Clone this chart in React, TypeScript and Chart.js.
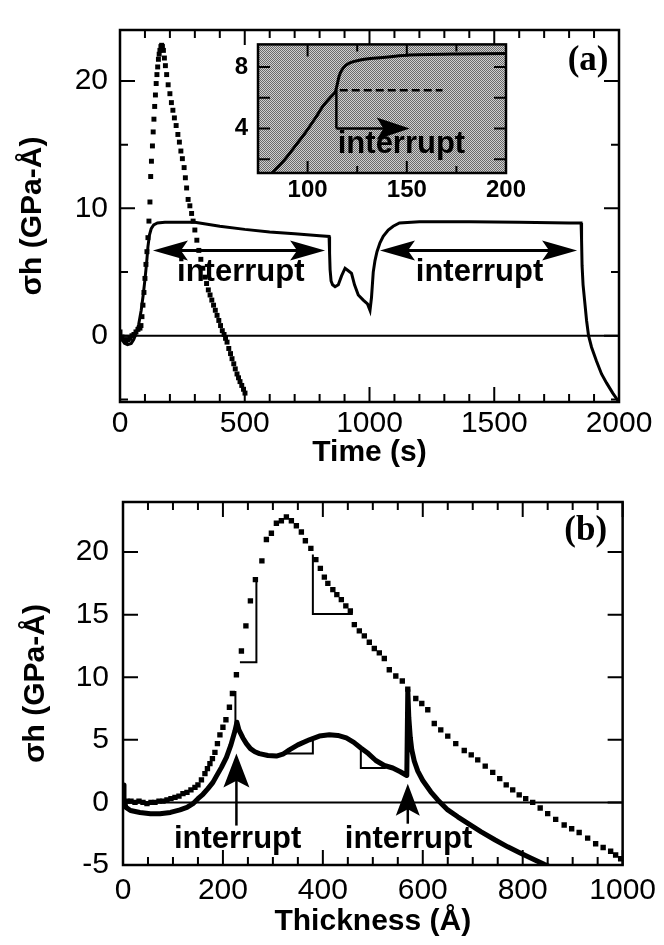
import React, { useEffect, useRef } from 'react';
import { Chart, registerables } from 'chart.js';

Chart.register(...registerables);

const SANS = "'Liberation Sans', Arial, Helvetica, sans-serif";
const SERIF = "'Liberation Serif', 'Times New Roman', serif";

// ===== Panel (a): sigma*h versus time =====
const aTimeTicks = [0, 500, 1000, 1500, 2000];
const aSigmaTicks = [0, 10, 20];
const aDotTime = [0, 8, 16, 24, 32, 40, 48, 56, 64, 72, 80, 84, 88, 92, 96, 100, 104, 108, 112, 116, 120, 123, 126, 130, 133, 136, 139, 142, 145, 148, 151, 154, 157, 160, 164, 167, 170, 174, 178, 182, 187, 193, 200, 206, 212, 218, 225, 232, 238, 244, 250, 257, 262, 267, 273, 280, 287, 293, 300, 308, 316, 324, 332, 340, 347, 354, 361, 368, 375, 382, 389, 396, 403, 410, 417, 423, 429, 436, 443, 449, 456, 462, 469, 475, 481, 488, 495, 501];
const aDotSigma = [0.3, -0.1, -0.3, -0.4, -0.3, -0.2, 0.0, 0.1, 0.3, 0.5, 0.6, 0.8, 1.5, 2.4, 3.4, 4.5, 5.6, 6.6, 7.7, 9.0, 10.5, 12.5, 13.7, 14.9, 16.0, 17.0, 18.0, 18.9, 19.8, 20.5, 21.1, 21.7, 22.1, 22.4, 22.7, 22.8, 22.7, 22.4, 21.8, 21.2, 20.5, 19.7, 19.0, 18.3, 17.7, 17.1, 16.5, 15.8, 15.2, 14.5, 13.9, 13.2, 12.4, 11.6, 10.7, 10.2, 9.6, 9.0, 8.3, 7.5, 6.7, 6.0, 5.3, 4.6, 4.1, 3.6, 3.2, 2.8, 2.4, 2.0, 1.6, 1.2, 0.8, 0.4, 0.1, -0.2, -0.5, -1.0, -1.4, -1.8, -2.2, -2.6, -3.0, -3.3, -3.6, -3.9, -4.2, -4.5];
const aLineTime = [0, 8, 18, 30, 45, 55, 65, 75, 85, 93, 100, 107, 112, 118, 125, 135, 150, 180, 250, 300, 400, 500, 600, 700, 800, 838, 840, 842, 846, 852, 862, 875, 888, 902, 915, 928, 940, 955, 975, 992, 1002, 1008, 1015, 1022, 1030, 1042, 1055, 1075, 1095, 1120, 1200, 1400, 1600, 1800, 1848, 1850, 1852, 1856, 1862, 1870, 1878, 1890, 1910, 1930, 1950, 1975, 2000];
const aLineSigma = [0.3, -0.3, -0.6, -0.7, -0.6, -0.3, 0.2, 0.9, 2.0, 3.2, 4.4, 5.8, 7.0, 7.9, 8.4, 8.7, 8.85, 8.9, 8.9, 8.9, 8.6, 8.35, 8.15, 8.0, 7.85, 7.8, 6.5, 5.2, 4.3, 4.0, 3.85, 4.0, 4.7, 5.3, 5.1, 4.9, 4.0, 3.2, 2.8, 2.5, 2.0, 3.0, 5.0, 5.9, 6.6, 7.3, 7.8, 8.3, 8.6, 8.85, 8.95, 8.95, 8.9, 8.85, 8.85, 7.5, 5.5, 4.0, 2.8, 1.2, 0.0, -0.9, -2.0, -3.0, -3.7, -4.5, -5.2];

// ===== Inset of panel (a) =====
const insetTimeTicks = [100, 150, 200];
const insetSigmaTicks = [4, 8];
const insetTime = [82, 88, 94, 99, 104, 108, 112, 114, 116, 118, 121, 126, 133, 150, 175, 200];
const insetSigma = [1.1, 1.9, 2.9, 3.75, 4.7, 5.5, 6.1, 6.4, 7.45, 7.95, 8.26, 8.45, 8.57, 8.78, 8.85, 8.88];

// ===== Panel (b): sigma*h versus thickness =====
const bThickTicks = [0, 200, 400, 600, 800, 1000];
const bSigmaTicks = [-5, 0, 5, 10, 15, 20];
const bDotThick = [0, 8, 16, 24, 32, 40, 48, 56, 64, 72, 80, 88, 96, 104, 112, 120, 128, 136, 144, 150, 157, 164, 169, 174, 179, 184, 189, 194, 200, 206, 213, 219, 227, 237, 246, 255, 265, 278, 287, 297, 307, 317, 327, 337, 347, 357, 365, 376, 386, 395, 403, 410, 420, 428, 437, 446, 455, 463, 473, 483, 493, 503, 513, 523, 533, 546, 559, 570, 586, 598, 610, 623, 636, 650, 666, 683, 697, 710, 725, 740, 754, 767, 780, 793, 806, 820, 835, 850, 866, 883, 898, 913, 930, 946, 961, 976, 986, 996];
const bDotSigma = [0.6, 0.1, 0.1, 0.0, 0.1, 0.0, -0.1, 0.0, 0.0, 0.1, 0.1, 0.2, 0.3, 0.4, 0.5, 0.7, 0.8, 1.0, 1.2, 1.4, 1.8, 2.3, 2.7, 3.1, 3.5, 4.0, 4.7, 5.4, 6.0, 6.6, 7.6, 8.7, 10.2, 12.1, 14.1, 16.1, 17.8, 19.3, 21.0, 21.5, 22.3, 22.5, 22.8, 22.5, 22.1, 21.6, 20.9, 20.3, 19.4, 18.7, 18.0, 17.5, 17.0, 16.6, 16.2, 15.7, 15.3, 14.2, 13.7, 13.3, 12.8, 12.3, 11.95, 11.5, 10.6, 10.1, 9.7, 9.05, 8.3, 7.9, 7.4, 6.3, 5.8, 5.3, 4.7, 4.15, 3.8, 3.4, 2.9, 2.4, 1.9, 1.4, 1.0, 0.6, 0.3, 0.0, -0.45, -0.9, -1.35, -1.8, -2.1, -2.4, -2.85, -3.3, -3.6, -3.9, -4.2, -4.5];
const bLineThick = [0, 2, 6, 15, 34, 55, 74, 95, 114, 128, 140, 150, 160, 170, 180, 187, 197, 207, 216, 224, 228, 232, 240, 247, 255, 264, 273, 290, 307, 320, 333, 350, 373, 393, 413, 430, 447, 462, 476, 491, 506, 523, 540, 555, 568, 570, 572, 575, 578, 583, 590, 600, 616, 630, 650, 670, 695, 717, 745, 770, 795, 816, 843, 870];
const bLineSigma = [1.4, 0.2, -0.4, -0.65, -0.8, -0.9, -0.9, -0.8, -0.6, -0.4, -0.1, 0.3, 0.65, 1.1, 1.6, 2.1, 2.8, 3.6, 4.6, 5.7, 6.4, 5.8, 5.15, 4.7, 4.3, 4.05, 3.9, 3.75, 3.7, 3.85, 4.2, 4.6, 5.0, 5.3, 5.4, 5.35, 5.15, 4.8, 4.35, 3.9, 3.35, 2.95, 2.75, 2.45, 2.15, 9.0, 6.8, 5.2, 4.2, 3.3, 2.5, 1.75, 0.85, 0.2, -0.6, -1.15, -1.8, -2.35, -3.0, -3.55, -4.05, -4.45, -4.95, -5.4];
const bStep1Thick = [234, 267, 267];
const bStep1Sigma = [11.2, 11.2, 17.7];
const bStep2Thick = [380, 380, 460];
const bStep2Sigma = [19.8, 15.05, 15.05];
const bStep3Thick = [225, 225];
const bStep3Sigma = [6.2, 8.9];
const bStep4Thick = [320, 380, 380];
const bStep4Sigma = [3.9, 3.9, 4.9];
const bStep5Thick = [476, 476, 526];
const bStep5Sigma = [4.35, 2.75, 2.75];

// ===== annotations (data coordinates) =====
const TXT = `bold 31px ${SANS}`;
const annotA = {
  arrows: [
    { x1: 132, y1: 6.7, x2: 822, y2: 6.7, both: true, width: 3, len: 35, hw: 10 },
    { x1: 1042, y1: 6.7, x2: 1832, y2: 6.7, both: true, width: 3, len: 35, hw: 10 },
  ],
  texts: [
    { x: 484, y: 4.26, text: 'interrupt', font: TXT, align: 'center', baseline: 'alphabetic' },
    { x: 1441, y: 4.26, text: 'interrupt', font: TXT, align: 'center', baseline: 'alphabetic' },
    { x: 1876, y: 21.55, text: '(a)', font: `bold 35px ${SERIF}`, align: 'center', baseline: 'middle' },
  ],
  segments: [],
};
const annotInset = {
  segments: [
    { x1: 116.2, y1: 6.5, x2: 168, y2: 6.5, width: 2.5, dash: [8, 4] },
    { x1: 114.5, y1: 6.5, x2: 114.5, y2: 4.0, width: 2.5 },
  ],
  arrows: [{ x1: 114.5, y1: 4.0, x2: 151.5, y2: 4.0, both: false, width: 2.5, len: 33, hw: 11 }],
  texts: [{ x: 115.2, y: 2.4, text: 'interrupt', font: TXT, align: 'left', baseline: 'alphabetic' }],
};
const annotB = {
  segments: [],
  arrows: [
    { x1: 227, y1: -1.85, x2: 227, y2: 3.9, both: false, width: 2.5, len: 34, hw: 13 },
    { x1: 570, y1: -1.7, x2: 570, y2: 1.5, both: false, width: 2.5, len: 32, hw: 12 },
  ],
  texts: [
    { x: 229.5, y: -3.65, text: 'interrupt', font: TXT, align: 'center', baseline: 'alphabetic' },
    { x: 571.6, y: -3.65, text: 'interrupt', font: TXT, align: 'center', baseline: 'alphabetic' },
    { x: 926, y: 21.7, text: '(b)', font: `bold 35px ${SERIF}`, align: 'center', baseline: 'middle' },
  ],
};

type Pt = { x: number; y: number };
const zip = (xs: number[], ys: number[]): Pt[] => xs.map((x, i) => ({ x, y: ys[i] }));

function makeHalftone(ctx: CanvasRenderingContext2D) {
  const c = document.createElement('canvas');
  c.width = 4;
  c.height = 4;
  const g = c.getContext('2d')!;
  g.fillStyle = '#cfcfcf';
  g.fillRect(0, 0, 4, 4);
  g.fillStyle = '#6a6a6a';
  const dark = [[0, 0], [2, 0], [1, 1], [3, 1], [0, 2], [2, 2], [1, 3], [3, 3]];
  dark.forEach(([x, y]) => g.fillRect(x, y, 1, 1));
  return ctx.createPattern(c, 'repeat')!;
}

function makeFramePlugin(cfg: any) {
  return {
    id: 'frameTicks',
    beforeDatasetsDraw(chart: any) {
      const { ctx, chartArea: a, scales } = chart;
      ctx.save();
      if (cfg.pattern) {
        ctx.fillStyle = makeHalftone(ctx);
        ctx.fillRect(a.left, a.top, a.right - a.left, a.bottom - a.top);
      }
      if (cfg.zeroLine) {
        const y0 = scales.y.getPixelForValue(0);
        ctx.strokeStyle = '#000';
        ctx.lineWidth = cfg.zeroLine;
        ctx.beginPath();
        ctx.moveTo(a.left, y0);
        ctx.lineTo(a.right, y0);
        ctx.stroke();
      }
      ctx.restore();
    },
    afterDatasetsDraw(chart: any) {
      const { ctx, chartArea: a, scales } = chart;
      const xs = scales.x;
      const ys = scales.y;
      const isMajor = (v: number, m: number) => Math.abs(v / m - Math.round(v / m)) < 1e-6;
      ctx.save();
      ctx.strokeStyle = '#000';
      ctx.lineWidth = cfg.tickWidth;
      ctx.beginPath();
      for (let k = Math.ceil(xs.min / cfg.xMinor - 1e-9); k * cfg.xMinor <= xs.max + 1e-9; k++) {
        const v = k * cfg.xMinor;
        const p = xs.getPixelForValue(v);
        const L = isMajor(v, cfg.xMajor) ? cfg.majorLen : cfg.minorLen;
        ctx.moveTo(p, a.bottom);
        ctx.lineTo(p, a.bottom - L);
        ctx.moveTo(p, a.top);
        ctx.lineTo(p, a.top + L);
      }
      for (let k = Math.ceil(ys.min / cfg.yMinor - 1e-9); k * cfg.yMinor <= ys.max + 1e-9; k++) {
        const v = k * cfg.yMinor;
        const p = ys.getPixelForValue(v);
        const L = isMajor(v, cfg.yMajor) ? cfg.majorLen : cfg.minorLen;
        ctx.moveTo(a.left, p);
        ctx.lineTo(a.left + L, p);
        ctx.moveTo(a.right, p);
        ctx.lineTo(a.right - L, p);
      }
      ctx.stroke();
      ctx.lineWidth = cfg.frameWidth;
      ctx.strokeRect(a.left, a.top, a.right - a.left, a.bottom - a.top);
      ctx.restore();
    },
  };
}

function arrowHead(ctx: CanvasRenderingContext2D, tx: number, ty: number, ux: number, uy: number, len: number, hw: number) {
  const bx = tx - ux * len;
  const by = ty - uy * len;
  const nx = -uy;
  const ny = ux;
  const mx = tx - ux * len * 0.8;
  const my = ty - uy * len * 0.8;
  ctx.beginPath();
  ctx.moveTo(tx, ty);
  ctx.lineTo(bx + nx * hw, by + ny * hw);
  ctx.lineTo(mx, my);
  ctx.lineTo(bx - nx * hw, by - ny * hw);
  ctx.closePath();
  ctx.fill();
}

function makeAnnotPlugin(cfg: any) {
  return {
    id: 'annot',
    afterDatasetsDraw(chart: any) {
      const { ctx, scales } = chart;
      const px = (v: number) => scales.x.getPixelForValue(v);
      const py = (v: number) => scales.y.getPixelForValue(v);
      ctx.save();
      ctx.fillStyle = '#000';
      ctx.strokeStyle = '#000';
      ctx.lineCap = 'butt';
      for (const s of cfg.segments || []) {
        ctx.lineWidth = s.width;
        ctx.setLineDash(s.dash || []);
        ctx.beginPath();
        ctx.moveTo(px(s.x1), py(s.y1));
        ctx.lineTo(px(s.x2), py(s.y2));
        ctx.stroke();
      }
      ctx.setLineDash([]);
      for (const ar of cfg.arrows || []) {
        const x1 = px(ar.x1), y1 = py(ar.y1), x2 = px(ar.x2), y2 = py(ar.y2);
        const d = Math.hypot(x2 - x1, y2 - y1);
        const ux = (x2 - x1) / d, uy = (y2 - y1) / d;
        const sx = ar.both ? x1 + ux * ar.len * 0.7 : x1;
        const sy = ar.both ? y1 + uy * ar.len * 0.7 : y1;
        ctx.lineWidth = ar.width;
        ctx.beginPath();
        ctx.moveTo(sx, sy);
        ctx.lineTo(x2 - ux * ar.len * 0.7, y2 - uy * ar.len * 0.7);
        ctx.stroke();
        arrowHead(ctx, x2, y2, ux, uy, ar.len, ar.hw);
        if (ar.both) arrowHead(ctx, x1, y1, -ux, -uy, ar.len, ar.hw);
      }
      for (const t of cfg.texts || []) {
        ctx.font = t.font;
        ctx.textAlign = t.align;
        ctx.textBaseline = t.baseline;
        ctx.fillText(t.text, px(t.x), py(t.y));
      }
      ctx.restore();
    },
  };
}

function scalesFor(o: any) {
  const fmt = (v: any) => String(v);
  return {
    x: {
      type: 'linear',
      position: 'bottom',
      min: o.xMin,
      max: o.xMax,
      grid: { display: false, drawTicks: false },
      border: { display: false },
      afterBuildTicks: (s: any) => {
        s.ticks = o.xTicks.map((value: number) => ({ value }));
      },
      afterFit: (s: any) => {
        s.height = o.xHeight;
      },
      ticks: { color: '#000', font: o.tickFont, padding: o.xPad, maxRotation: 0, minRotation: 0, autoSkip: false, callback: fmt },
      title: o.xTitle
        ? { display: true, text: o.xTitle, color: '#000', font: { family: SANS, size: 30, weight: 'bold', lineHeight: 1 }, padding: { top: 0, bottom: o.xTitlePad } }
        : { display: false },
    },
    y: {
      type: 'linear',
      position: 'left',
      min: o.yMin,
      max: o.yMax,
      grid: { display: false, drawTicks: false },
      border: { display: false },
      afterBuildTicks: (s: any) => {
        s.ticks = o.yTicks.map((value: number) => ({ value }));
      },
      afterFit: (s: any) => {
        s.width = o.yWidth;
      },
      ticks: { color: '#000', font: o.tickFont, padding: o.yPad, autoSkip: false, callback: fmt },
      title: o.yTitle
        ? { display: true, text: o.yTitle, color: '#000', font: { family: SANS, size: 30, weight: 'bold', lineHeight: 1 }, padding: { top: o.yTitlePad, bottom: 0 } }
        : { display: false },
    },
  };
}

const baseOptions = {
  responsive: false,
  maintainAspectRatio: false,
  animation: false,
  events: [],
  plugins: { legend: { display: false }, tooltip: { enabled: false } },
};

function configA(): any {
  return {
    type: 'scatter',
    data: {
      datasets: [
        { type: 'line', data: zip(aLineTime, aLineSigma), borderColor: '#000', borderWidth: 3, pointRadius: 0, tension: 0, fill: false },
        { type: 'scatter', data: zip(aDotTime, aDotSigma), pointStyle: 'rect', pointRadius: 3.5, backgroundColor: '#000', borderWidth: 0 },
      ],
    },
    options: {
      ...baseOptions,
      layout: { padding: { left: 0, right: 45, top: 13, bottom: 0 } },
      scales: scalesFor({
        xMin: 0, xMax: 2000, xTicks: aTimeTicks, xHeight: 68, xPad: 4, xTitle: 'Time (s)', xTitlePad: 2,
        yMin: -5.2, yMax: 24, yTicks: aSigmaTicks, yWidth: 120, yPad: 12, yTitle: 'σh (GPa-Å)', yTitlePad: 18,
        tickFont: { family: SANS, size: 30 },
      }),
    },
    plugins: [
      makeFramePlugin({ xMinor: 100, xMajor: 500, yMinor: 5, yMajor: 10, majorLen: 15, minorLen: 8, frameWidth: 2.5, tickWidth: 2, zeroLine: 2 }),
      makeAnnotPlugin(annotA),
    ],
  };
}

function configInset(): any {
  return {
    type: 'scatter',
    data: {
      datasets: [
        { type: 'line', data: zip(insetTime, insetSigma), borderColor: '#000', borderWidth: 3, pointRadius: 0, tension: 0.2, fill: false },
      ],
    },
    options: {
      ...baseOptions,
      layout: { padding: { left: 0, right: 34, top: 17, bottom: 0 } },
      scales: scalesFor({
        xMin: 75, xMax: 200, xTicks: insetTimeTicks, xHeight: 37, xPad: 3,
        yMin: 1.1, yMax: 9.48, yTicks: insetSigmaTicks, yWidth: 58, yPad: 10,
        tickFont: { family: SANS, size: 24, weight: 'bold' },
      }),
    },
    plugins: [
      makeFramePlugin({ xMinor: 25, xMajor: 50, yMinor: 2, yMajor: 2, majorLen: 12, minorLen: 7, frameWidth: 2.5, tickWidth: 2, pattern: true }),
      makeAnnotPlugin(annotInset),
    ],
  };
}

function configB(): any {
  const thin = (xs: number[], ys: number[]) => ({ type: 'line', data: zip(xs, ys), borderColor: '#000', borderWidth: 2, pointRadius: 0, tension: 0, fill: false });
  return {
    type: 'scatter',
    data: {
      datasets: [
        { type: 'line', data: zip(bLineThick, bLineSigma), borderColor: '#000', borderWidth: 5, pointRadius: 0, tension: 0, fill: false, borderJoinStyle: 'round' },
        { type: 'scatter', data: zip(bDotThick, bDotSigma), pointStyle: 'rect', pointRadius: 3.8, backgroundColor: '#000', borderWidth: 0 },
        thin(bStep1Thick, bStep1Sigma),
        thin(bStep2Thick, bStep2Sigma),
        thin(bStep3Thick, bStep3Sigma),
        thin(bStep4Thick, bStep4Sigma),
        thin(bStep5Thick, bStep5Sigma),
      ],
    },
    options: {
      ...baseOptions,
      layout: { padding: { left: 0, right: 40, top: 10, bottom: 0 } },
      scales: scalesFor({
        xMin: 0, xMax: 1000, xTicks: bThickTicks, xHeight: 80, xPad: 8, xTitle: 'Thickness (Å)', xTitlePad: 8,
        yMin: -5, yMax: 24, yTicks: bSigmaTicks, yWidth: 123, yPad: 14, yTitle: 'σh (GPa-Å)', yTitlePad: 21,
        tickFont: { family: SANS, size: 30 },
      }),
    },
    plugins: [
      makeFramePlugin({ xMinor: 50, xMajor: 200, yMinor: 5, yMajor: 5, majorLen: 15, minorLen: 8, frameWidth: 2.5, tickWidth: 2, zeroLine: 2 }),
      makeAnnotPlugin(annotB),
    ],
  };
}

export default function App() {
  const refA = useRef<HTMLCanvasElement>(null);
  const refInset = useRef<HTMLCanvasElement>(null);
  const refB = useRef<HTMLCanvasElement>(null);

  useEffect(() => {
    const charts = [
      new Chart(refA.current!, configA()),
      new Chart(refInset.current!, configInset()),
      new Chart(refB.current!, configB()),
    ];
    return () => charts.forEach((c) => c.destroy());
  }, []);

  return (
    <div style={{ position: 'absolute', left: 0, top: 0, width: 664, height: 945, background: '#fff', overflow: 'hidden' }}>
      <canvas ref={refA} width={664} height={470} style={{ position: 'absolute', left: 0, top: 0 }} />
      <canvas ref={refInset} width={340} height={190} style={{ position: 'absolute', left: 200, top: 20 }} />
      <canvas ref={refB} width={664} height={475} style={{ position: 'absolute', left: 0, top: 470 }} />
    </div>
  );
}
